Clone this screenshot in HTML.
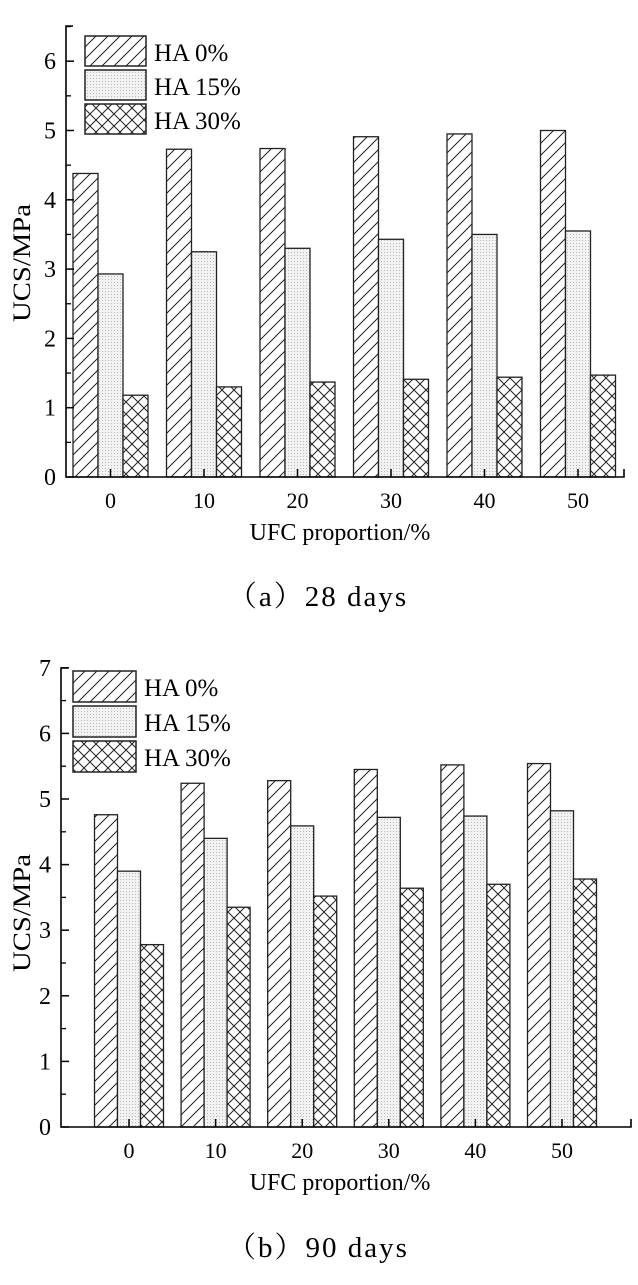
<!DOCTYPE html>
<html><head><meta charset="utf-8"><style>
body{margin:0;background:#fff;}
svg{display:block;font-family:"Liberation Serif",serif;}
</style></head><body>
<svg id="s" width="638" height="1285">
<defs>
<pattern id="p0" patternUnits="userSpaceOnUse" width="12" height="12"><rect width="12" height="12" fill="#fff"/><path d="M-3,15 L15,-3 M-9,9 L9,-9 M3,21 L21,3" stroke="#222" stroke-width="1"/></pattern>
<pattern id="p1" patternUnits="userSpaceOnUse" width="3" height="3"><rect width="3" height="3" fill="#f2f2f2"/><rect width="1" height="1" fill="#bbb"/></pattern>
<pattern id="p2" patternUnits="userSpaceOnUse" width="12" height="12"><rect width="12" height="12" fill="#fff"/><path d="M0,0 L12,12 M0,12 L12,0" stroke="#222" stroke-width="1"/></pattern>
</defs>
<g id="c1"></g>
<g id="c2"></g>
<text x="318" y="606" text-anchor="middle" font-size="29" letter-spacing="2" font-family="'Liberation Serif','Noto Serif CJK SC',serif">（a）28 days</text>
<text x="318" y="1257" text-anchor="middle" font-size="29" letter-spacing="2" font-family="'Liberation Serif','Noto Serif CJK SC',serif">（b）90 days</text>
</svg>
<script>
const categories=["0","10","20","30","40","50"];
const seriesNames=["HA 0%","HA 15%","HA 30%"];
const ha0_28=[4.38,4.73,4.74,4.91,4.95,5.00];
const ha15_28=[2.93,3.25,3.30,3.43,3.50,3.55];
const ha30_28=[1.18,1.30,1.37,1.41,1.44,1.47];
const ha0_90=[4.76,5.24,5.28,5.45,5.52,5.54];
const ha15_90=[3.90,4.40,4.59,4.72,4.74,4.82];
const ha30_90=[2.78,3.35,3.52,3.64,3.70,3.78];
const ticks28=[0,1,2,3,4,5,6];
const ticks90=[0,1,2,3,4,5,6,7];
const NS="http://www.w3.org/2000/svg";
function mk(p,t,a){const e=document.createElementNS(NS,t);for(const k in a)e.setAttribute(k,a[k]);p.appendChild(e);return e;}
function draw(g,cfg){
  const y=v=>cfg.y0-v*cfg.py;
  const x=i=>cfg.c0+i*cfg.dx;
  cfg.series.forEach((arr,s)=>{arr.forEach((v,i)=>{
    const r=mk(g,"rect",{x:x(i)-1.5*cfg.bw+s*cfg.bw,y:y(v),width:cfg.bw,height:cfg.y0-y(v),fill:"url(#p"+s+")",stroke:"#222","stroke-width":1.3});
    
    
  });});
  const ax=mk(g,"path",{d:`M${cfg.ax+7},${cfg.top} H${cfg.ax} V${cfg.y0} H${cfg.right} V${cfg.y0-8}`,fill:"none",stroke:"#000","stroke-width":1.6});
  
  
  cfg.ticks.forEach(t=>{
    mk(g,"line",{x1:cfg.ax,y1:y(t),x2:cfg.ax+8,y2:y(t),stroke:"#000","stroke-width":1.5});
    if(y(t+0.5)>cfg.top) mk(g,"line",{x1:cfg.ax,y1:y(t+0.5),x2:cfg.ax+5,y2:y(t+0.5),stroke:"#000","stroke-width":1.3});
    const tl=mk(g,"text",{x:cfg.ax-10,y:y(t)+8,"text-anchor":"end","font-size":24});
    tl.textContent=t;
    
    
  });
  categories.forEach((c,i)=>{
    mk(g,"line",{x1:x(i),y1:cfg.y0,x2:x(i),y2:cfg.y0-8,stroke:"#000","stroke-width":1.5});
    const tl=mk(g,"text",{x:x(i),y:cfg.y0+31,"text-anchor":"middle","font-size":22});
    tl.textContent=c;
    
    
  });
  const xt=mk(g,"text",{x:cfg.xtx,y:cfg.y0+63,"text-anchor":"middle","font-size":24});
  xt.textContent="UFC proportion/%";
  
  
  const yt=mk(g,"text",{x:0,y:0,"text-anchor":"middle","font-size":25,textLength:118,lengthAdjust:"spacingAndGlyphs",transform:`translate(30,${cfg.ytc}) rotate(-90)`});
  yt.textContent="UCS/MPa";
  
  
  seriesNames.forEach((n,s)=>{
    const r=mk(g,"rect",{x:cfg.lx,y:cfg.ly+s*cfg.lh,width:cfg.lw,height:cfg.lh-4,fill:"url(#p"+s+")",stroke:"#222","stroke-width":1.5});
    
    
    const t=mk(g,"text",{x:cfg.lx+cfg.lw+8,y:cfg.ly+s*cfg.lh+25,"font-size":25});
    t.textContent=n;
    
    
  });
}
draw(document.getElementById("c1"),{tag:"28",series:[ha0_28,ha15_28,ha30_28],ticks:ticks28,y0:477,py:69.3,top:26,ax:66,right:624,c0:110.5,dx:93.5,bw:25,xtx:340,ytc:263,lx:85,ly:36,lw:61,lh:34});
draw(document.getElementById("c2"),{tag:"90",series:[ha0_90,ha15_90,ha30_90],ticks:ticks90,y0:1127,py:65.6,top:668,ax:61,right:631,c0:129,dx:86.6,bw:23,xtx:340,ytc:913,lx:73,ly:671,lw:63,lh:35});
</script>
</body></html>
